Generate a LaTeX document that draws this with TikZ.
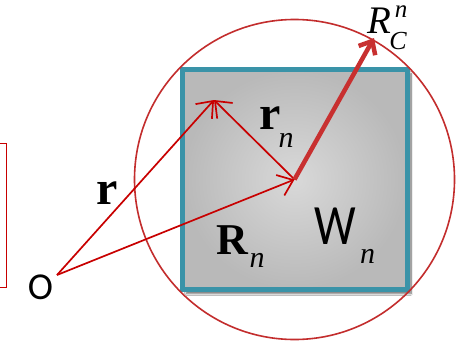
\documentclass[tikz,border=0pt]{standalone}
\usepackage{fontspec}
\setmainfont{Liberation Serif}
\newfontfamily\calfont{Carlito}
\usetikzlibrary{arrows.meta,shadows.blur}
\definecolor{vecred}{RGB}{200,0,0}
\definecolor{radred}{RGB}{200,48,48}
\definecolor{ringred}{RGB}{195,45,45}
\definecolor{cellteal}{RGB}{58,147,168}
\tikzset{
vecarrow/.style={-{Straight Barb[length=14pt,width=22pt]},line width=1.7pt,draw=vecred},
radarrow/.style={-{Straight Barb[length=11pt,width=19pt]},line width=4.5pt,draw=radred},
ring/.style={draw=ringred,line width=1.6pt},
cellbox/.style={draw=cellteal,line width=5pt,inner color=gray!30,outer color=gray!55,blur shadow={shadow xshift=4pt,shadow yshift=-4pt,shadow blur steps=10,shadow opacity=60}},
boldlabel/.style={font=\fontsize{48}{48}\selectfont\bfseries,inner sep=0pt},
italabel/.style={font=\fontsize{30}{30}\selectfont\itshape,inner sep=0pt},
sanslabel/.style={font=\calfont\fontsize{38}{38}\selectfont,inner sep=0pt}
}
\begin{document}
\begin{tikzpicture}[x=1pt,y=-1pt]
\clip (0,0) rectangle (462,345);
\fill[white] (0,0) rectangle (462,345);
\draw[vecred,line width=1pt] (-10,143) -- (6,143) -- (6,287) -- (-10,287);
\path[cellbox] (182.5,69.5) rectangle (407,289.5);
\coordinate (origin) at (57,275);
\coordinate (tip) at (214,100);
\coordinate (centre) at (294.5,179.5);
\coordinate (rim) at (374,38);
\draw[ring] (centre) circle[radius=160pt];
\draw[vecarrow] (origin)--(tip);
\draw[vecarrow] (origin)--(centre);
\draw[vecarrow] (centre)--(tip);
\draw[radarrow] (centre)--(rim);
\node[sanslabel] (olabel) at (40.5,287.5) {O};
\node[boldlabel] (rlabel) at (107,193) {r};
\node[boldlabel] (rnlabel) at (270,118) {r};
\node[italabel] (rnsub) at (286,140) {n};
\node[boldlabel,font=\fontsize{44}{44}\selectfont\bfseries] (Rnlabel) at (232,240) {R};
\node[italabel] (Rnsub) at (257,260) {n};
\node[sanslabel,font=\calfont\fontsize{57}{57}\selectfont,xscale=.82] (wlabel) at (335,226.5) {W};
\node[italabel] (wsub) at (367.5,256) {n};
\node[italabel,font=\fontsize{39}{39}\selectfont\itshape] (rclabel) at (379,21) {R};
\node[italabel,font=\fontsize{25}{25}\selectfont\itshape] (rcsup) at (401,12) {n};
\node[italabel,font=\fontsize{26}{26}\selectfont\itshape] (rcsub) at (398,41) {C};
\end{tikzpicture}
\end{document}
